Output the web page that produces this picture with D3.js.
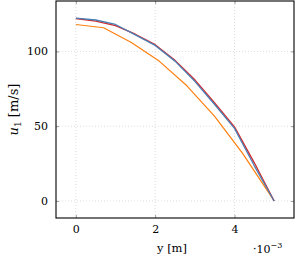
<!DOCTYPE html>
<html>
<head>
<meta charset="utf-8">
<script src="https://cdn.jsdelivr.net/npm/d3@7"></script>
<style>
  body { margin: 0; background: #fff; }
  text { font-family: "DejaVu Serif", serif; fill: #000; }
</style>
</head>
<body>
<div id="chart"></div>
<script>
// values, x in units of 1e-3 m
const xTicks = [0, 2, 4];
const yTicks = [0, 50, 100];

const redX = [0, 0.5, 1.0, 1.5, 2.0, 2.5, 3.0, 3.5, 4.0, 4.5, 5.0];
const redU = [122, 120.3, 117.2, 111.5, 104.5, 94, 81, 65.5, 49.5, 25.5, 0];

const blueX = [0, 0.5, 1.0, 1.5, 2.0, 2.5, 3.0, 3.5, 4.0, 4.5, 5.0];
const blueU = [122.3, 121, 118, 111, 104, 93.5, 80, 64.5, 48.5, 23.5, 0];

const orangeX = [0, 0.7, 1.4, 2.1, 2.8, 3.5, 4.2, 5.0];
const orangeU = [118, 115.8, 106, 93.5, 77, 56.5, 32, 0];

const W = 295, H = 260;
const margin = { top: 1, right: 1, bottom: 42, left: 56 };
const width = W - margin.left - margin.right,
    height = H - margin.top - margin.bottom;

const svg = d3.select('#chart').append('svg')
    .attr('width', W)
    .attr('height', H);

const g = svg.append('g')
    .attr('transform', 'translate(' + margin.left + ',' + margin.top + ')');

const x = d3.scaleLinear().domain([-0.5, 5.5]).range([0, width]);
const y = d3.scaleLinear().domain([-11.4, 133.7]).range([height, 0]);

// grid
g.append('g').selectAll('line.gx')
    .data(xTicks).enter().append('line')
    .attr('x1', d => x(d)).attr('x2', d => x(d))
    .attr('y1', 0).attr('y2', height)
    .attr('stroke', '#d4d4d4').attr('stroke-width', 0.8)
    .attr('stroke-dasharray', '1,2');
g.append('g').selectAll('line.gy')
    .data(yTicks).enter().append('line')
    .attr('y1', d => y(d)).attr('y2', d => y(d))
    .attr('x1', 0).attr('x2', width)
    .attr('stroke', '#d4d4d4').attr('stroke-width', 0.8)
    .attr('stroke-dasharray', '1,2');

// curves
const line = d3.line().x(d => x(d[0])).y(d => y(d[1]));
const series = [
    { xs: orangeX, us: orangeU, color: '#ff7f0e', w: 1.2 },
    { xs: redX, us: redU, color: '#d62728', w: 1.3 },
    { xs: blueX, us: blueU, color: '#4a7fb5', w: 1.3 }
];
series.forEach(function (s) {
    g.append('path')
        .datum(s.xs.map((v, i) => [v, s.us[i]]))
        .attr('fill', 'none')
        .attr('stroke', s.color)
        .attr('stroke-width', s.w)
        .attr('stroke-linejoin', 'round')
        .attr('d', line);
});

// axes with inward ticks on every side
const fmt = d3.format('d');
const xBottom = d3.axisBottom(x).tickValues(xTicks).tickSizeInner(-3).tickSizeOuter(0).tickPadding(7).tickFormat(fmt);
const xTop = d3.axisTop(x).tickValues(xTicks).tickSizeInner(-3).tickSizeOuter(0).tickFormat('');
const yLeft = d3.axisLeft(y).tickValues(yTicks).tickSizeInner(-3).tickSizeOuter(0).tickPadding(8).tickFormat(fmt);
const yRight = d3.axisRight(y).tickValues(yTicks).tickSizeInner(-3).tickSizeOuter(0).tickFormat('');

function styleAxis(sel) {
    sel.attr('font-family', null).attr('font-size', null);
    sel.select('.domain').remove();
    sel.selectAll('line').attr('stroke', '#888').attr('stroke-width', 0.8);
    sel.selectAll('text').style('font-size', '11px').attr('fill', '#000');
}
g.append('g').attr('transform', 'translate(0,' + height + ')').call(xBottom).call(styleAxis);
g.append('g').call(xTop).call(styleAxis);
g.append('g').call(yLeft).call(styleAxis);
g.append('g').attr('transform', 'translate(' + width + ',0)').call(yRight).call(styleAxis);

// frame
g.append('rect')
    .attr('x', 0).attr('y', 0)
    .attr('width', width).attr('height', height)
    .attr('fill', 'none').attr('stroke', '#000').attr('stroke-width', 1.1);

// labels
svg.append('text')
    .attr('x', 172).attr('y', 252)
    .attr('text-anchor', 'middle')
    .style('font-size', '11.5px')
    .text('y [m]');

const sci = svg.append('text')
    .attr('x', 253).attr('y', 253)
    .style('font-size', '11px');
sci.append('tspan').text('·10');
sci.append('tspan').attr('dy', -5).style('font-size', '8px').text('−3');

const yl = svg.append('text')
    .attr('transform', 'translate(18,' + (margin.top + height / 2) + ') rotate(-90)')
    .attr('text-anchor', 'middle')
    .style('font-size', '13px');
yl.append('tspan').style('font-style', 'italic').text('u');
yl.append('tspan').attr('dy', 3).style('font-size', '9px').text('1');
yl.append('tspan').attr('dy', -3).text(' [m/s]');
</script>
</body>
</html>
